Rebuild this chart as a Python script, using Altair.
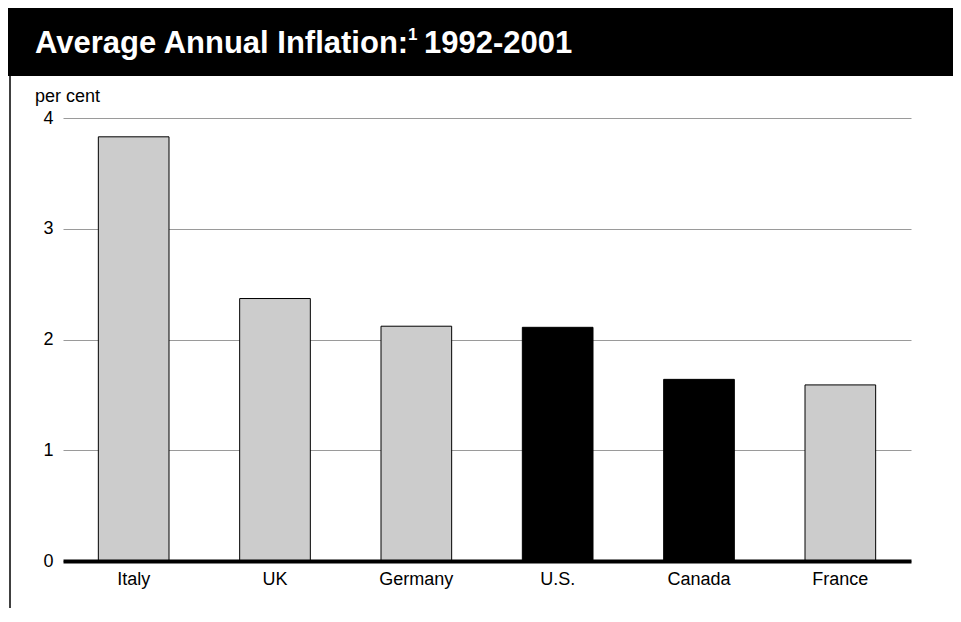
import altair as alt
import pandas as pd

countries = ["Italy", "UK", "Germany", "U.S.", "Canada", "France"]
inflation = [3.83, 2.37, 2.12, 2.11, 1.64, 1.59]
group = ["other", "other", "other", "highlight", "highlight", "other"]
y_ticks = [0, 1, 2, 3, 4]
title_main = "Average Annual Inflation:"
title_note = "1"
title_years = "1992-2001"
unit_text = "per cent"

FONT = "Liberation Sans"

df = pd.DataFrame({"country": countries, "value": inflation, "group": group})

bars = alt.Chart(df).mark_bar(stroke="black", strokeWidth=1).encode(
    x=alt.X(
        "country:N",
        sort=countries,
        scale=alt.Scale(paddingInner=0.5, paddingOuter=0.25),
        axis=alt.Axis(
            title=None, labelAngle=0, ticks=False, tickSize=0,
            domainColor="black", domainWidth=4, labelPadding=9,
            labelFontSize=18, labelColor="black", labelFont=FONT, zindex=1,
        ),
    ),
    y=alt.Y(
        "value:Q",
        scale=alt.Scale(domain=[0, 4], nice=False),
        axis=alt.Axis(
            title=None, values=y_ticks, grid=True, gridColor="#9a9a9a",
            gridWidth=1, domain=False, ticks=False, tickSize=0,
            labelPadding=10, labelFontSize=18, labelColor="black",
            labelFont=FONT,
        ),
    ),
    fill=alt.Fill(
        "group:N",
        scale=alt.Scale(domain=["other", "highlight"], range=["#cccccc", "#000000"]),
        legend=None,
    ),
)

main_df = pd.DataFrame({"t": [title_main]})
note_df = pd.DataFrame({"t": [title_note]})
years_df = pd.DataFrame({"t": [title_years]})
unit_df = pd.DataFrame({"t": [unit_text]})

band = alt.Chart(main_df).mark_rect(color="black").encode(
    x=alt.value(-55), x2=alt.value(890), y=alt.value(-110), y2=alt.value(-42)
)

title_a = alt.Chart(main_df).mark_text(
    align="left", baseline="alphabetic", font=FONT, fontSize=31,
    fontWeight="bold", color="white",
).encode(x=alt.value(-28), y=alt.value(-65), text="t:N")

title_b = alt.Chart(note_df).mark_text(
    align="left", baseline="alphabetic", font=FONT, fontSize=17,
    fontWeight="bold", color="white",
).encode(x=alt.value(345), y=alt.value(-78), text="t:N")

title_c = alt.Chart(years_df).mark_text(
    align="left", baseline="alphabetic", font=FONT, fontSize=31,
    fontWeight="bold", color="white",
).encode(x=alt.value(361), y=alt.value(-65), text="t:N")

unit = alt.Chart(unit_df).mark_text(
    align="left", baseline="alphabetic", font=FONT, fontSize=18, color="black",
).encode(x=alt.value(-28), y=alt.value(-16), text="t:N")

border = alt.Chart(main_df).mark_rule(color="black", strokeWidth=1.5).encode(
    x=alt.value(-53), y=alt.value(-42), y2=alt.value(490)
)

chart = alt.layer(band, title_a, title_b, title_c, unit, border, bars).properties(
    width=848,
    height=443,
    padding={"left": 55, "top": 110, "right": 42, "bottom": 47},
    autosize=alt.AutoSizeParams(type="none"),
    background="white",
).configure_view(stroke=None)

chart.save("out.html", embed_options={"renderer": "svg", "actions": False})
